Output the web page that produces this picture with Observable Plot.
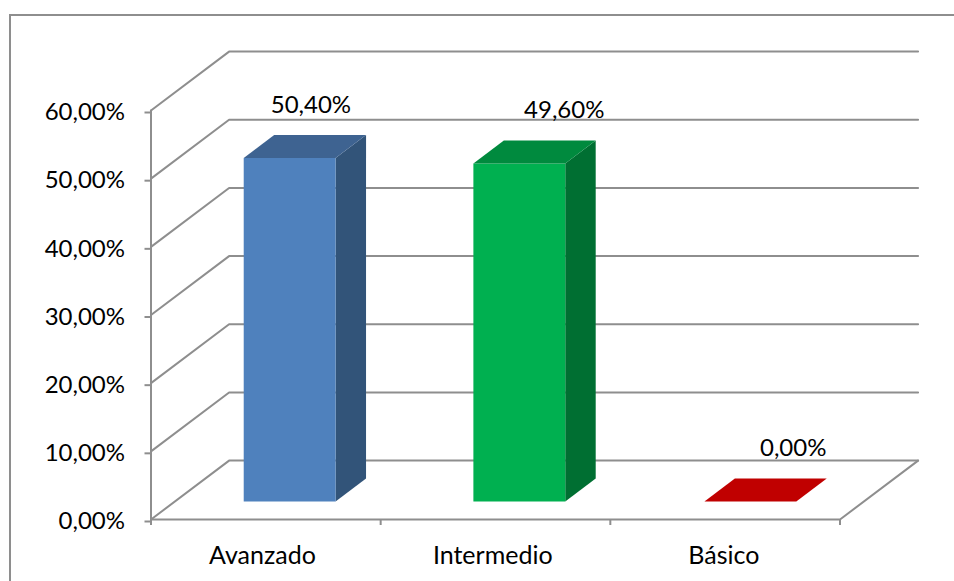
<!DOCTYPE html>
<html>
<head>
<meta charset="utf-8">
<script src="https://cdn.jsdelivr.net/npm/d3@7"></script>
<script src="https://cdn.jsdelivr.net/npm/@observablehq/plot@0.6"></script>
<style>
  html, body { margin: 0; padding: 0; background: #fff; overflow: hidden; }
  #chart { position: relative; width: 954px; height: 581px; }
  #chart svg { position: absolute; left: 0; top: 0; }
  #frame { position: absolute; left: 9px; top: 14px; right: 0; bottom: -5px;
           border: 2px solid #8e8e8e; border-right: none; border-bottom: none; }
</style>
</head>
<body>
<div id="chart"><div id="frame"></div></div>
<script>
const categories = ["Avanzado", "Intermedio", "Básico"];
const values = [50.40, 49.60, 0.00];
const yTicks = [0, 10, 20, 30, 40, 50, 60];

const frontColors = ["#4F81BD", "#00B050", "#C00000"];
const topColors = ["#3E6391", "#008A3E", "#C00000"];
const sideColors = ["#325479", "#006F32", "#C00000"];

const grid = "#8e8e8e";
const depthX = 0.34, depthY = 8.64;      // oblique offset of the back wall, in data units
const barGap = 0.3, barWidth = 0.4;
const barNear = 0.305, barFar = 0.695;
const barNudge = [0, 0, 0.006];
const labelNudge = [-0.04, 0.063, 0.06];
const catNudge = [-0.015, -0.012, -0.006];
const fmt = (v) => v.toFixed(2).replace(".", ",") + "%";
const P = (c, v, d) => ({x: c + d * depthX, y: v + d * depthY});

const gridPaths = yTicks.flatMap((t) => [
  {...P(0, t, 0), t}, {...P(0, t, 1), t}, {...P(3, t, 1), t}
]);
const floorFront = [P(0, 0, 0), P(3, 0, 0), P(3, 0, 1)];
const wallEdge = [P(0, 0, 0), P(0, 60, 0)];

const faces = categories.flatMap((_, i) => {
  const a = i + barGap + barNudge[i], b = a + barWidth, v = values[i];
  const out = [];
  if (v > 0) {
    out.push({fill: sideColors[i], pts: [P(b, 0, barNear), P(b, 0, barFar), P(b, v, barFar), P(b, v, barNear)]});
    out.push({fill: frontColors[i], pts: [P(a, 0, barNear), P(b, 0, barNear), P(b, v, barNear), P(a, v, barNear)]});
  }
  out.push({fill: topColors[i], pts: [P(a, v, barNear), P(b, v, barNear), P(b, v, barFar), P(a, v, barFar)]});
  return out;
});

const labelRows = categories.map((c, i) => ({
  ...P(i + 0.5 + labelNudge[i], values[i], barFar),
  text: fmt(values[i])
}));
const catRows = categories.map((c, i) => ({x: i + 0.5 + catNudge[i], c}));

const plot = Plot.plot({
  width: 954,
  height: 581,
  marginLeft: 150.5,
  marginRight: 114.5,
  marginTop: 110,
  marginBottom: 62,
  style: {background: "transparent", fontFamily: "Lato, Carlito, sans-serif"},
  x: {domain: [0, 3], axis: null},
  y: {domain: [0, 60], axis: null},
  marks: [
    Plot.line(gridPaths, {x: "x", y: "y", z: "t", stroke: grid, strokeWidth: 2, strokeLinejoin: "miter"}),
    Plot.line(floorFront, {x: "x", y: "y", stroke: grid, strokeWidth: 2}),
    Plot.line(wallEdge, {x: "x", y: "y", stroke: grid, strokeWidth: 2}),
    ...faces.map((f) => Plot.line(f.pts, {x: "x", y: "y", fill: f.fill, stroke: "none"})),
    Plot.axisY({
      ticks: yTicks, tickFormat: fmt, label: null, tickSize: 6, tickPadding: 20,
      stroke: grid, strokeWidth: 2, fill: "#000", fontSize: 24, dy: 2
    }),
    Plot.axisX({
      ticks: [0, 1, 2, 3], tickFormat: () => "", label: null, tickSize: 6,
      stroke: grid, strokeWidth: 2, fill: "#000"
    }),
    Plot.text(catRows, {x: "x", y: () => 0, text: "c", dy: 36, fontSize: 25, fill: "#000"}),
    Plot.text(labelRows, {x: "x", y: "y", text: "text", dy: -30, fontSize: 24, fill: "#000"})
  ]
});
document.getElementById("chart").appendChild(plot);
</script>
</body>
</html>
